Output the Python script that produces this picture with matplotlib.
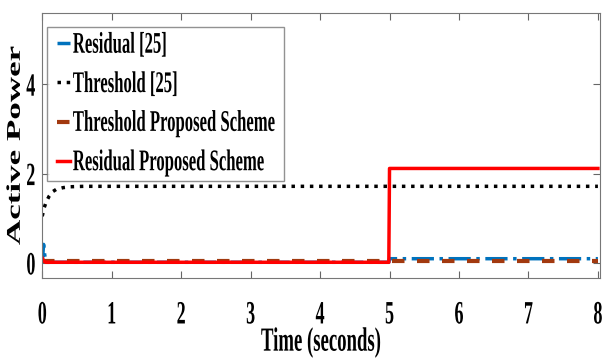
import numpy as np
import matplotlib.pyplot as plt
from matplotlib.patheffects import AbstractPathEffect
from matplotlib.transforms import Affine2D

plt.rcParams['font.family'] = ['Liberation Serif', 'DejaVu Serif']
plt.rcParams['font.weight'] = 'bold'

# Residual [25] (blue dash-dot)
t_res25 = [0, 0.02, 0.035, 0.05, 0.08, 4.99, 5.0, 8.0]
y_res25 = [0.0, 0.42, 0.2, 0.05, 0.02, 0.02, 0.1, 0.1]

# Threshold [25] (black dotted)
t_thr25 = [0, 0.03, 0.06, 0.1, 0.15, 0.2, 0.3, 0.4, 0.6, 1.0, 8.0]
y_thr25 = [1.05, 1.25, 1.38, 1.5, 1.6, 1.65, 1.69, 1.71, 1.72, 1.72, 1.72]

# Threshold Proposed Scheme (brown dashed)
t_thrp = [0, 8.0]
y_thrp = [0.05, 0.05]

# Residual Proposed Scheme (red solid)
t_resp = [0, 0.02, 0.05, 4.99, 5.0, 8.0]
y_resp = [0.12, 0.05, 0.02, 0.02, 2.12, 2.12]


class VStretch(AbstractPathEffect):
    # stretch text vertically about its centre (the source figure looks squashed)
    def __init__(self, sy=1.8):
        super().__init__()
        self.sy = sy

    def draw_path(self, renderer, gc, tpath, affine, rgbFace=None):
        ext = tpath.get_extents(affine)
        cy = 0.5 * (ext.y0 + ext.y1)
        t = affine + Affine2D().translate(0, -cy).scale(1, self.sy).translate(0, cy)
        renderer.draw_path(gc, tpath, t, rgbFace)


fig = plt.figure(figsize=(6.03, 3.6), dpi=100)
ax = fig.add_axes([0.07, 0.228, 0.925, 0.736])

ax.plot(t_res25, y_res25, color='#0072BD', linestyle='-.', lw=2.5, label='Residual [25]')
ax.plot(t_thr25, y_thr25, color='black', linestyle=':', lw=2.5, label='Threshold [25]')
ax.plot(t_thrp, y_thrp, color='#A2390F', linestyle=(0, (3, 3)), lw=3, label='Threshold Proposed Scheme')
ax.plot(t_resp, y_resp, color='#FF0000', linestyle='-', lw=2.5, label='Residual Proposed Scheme')

ax.set_xlim(0, 8.03)
ax.set_ylim(-0.33, 5.6)
ax.set_xticks(range(0, 9))
ax.set_yticks([0, 2, 4])
ax.tick_params(direction='in', top=True, right=True, labelsize=13, length=5, color='#666666')
ax.tick_params(axis='x', pad=20)
ax.tick_params(axis='y', pad=5)
for s in ax.spines.values():
    s.set_color('#777777')

ax.set_xlabel('Time (seconds)', fontsize=13.5, fontweight='bold', labelpad=8)
ax.set_ylabel('Active Power', fontsize=14, fontweight='bold')
ax.yaxis.set_label_coords(-0.033, 0.5)

leg = ax.legend(loc='upper left', bbox_to_anchor=(47 / 603, 1 - 27 / 360),
                bbox_transform=fig.transFigure, borderaxespad=0,
                fontsize=12, handlelength=0.75, handletextpad=0.2,
                fancybox=False, edgecolor='#777777',
                labelspacing=1.4, borderpad=0.6)
leg.get_frame().set_linewidth(1.0)

stretch = [VStretch(1.8)]
texts = ax.get_xticklabels() + ax.get_yticklabels() + leg.get_texts()
texts += [ax.xaxis.label, ax.yaxis.label]
for txt in texts:
    txt.set_fontweight('bold')
    txt.set_path_effects(stretch)

plt.savefig('out.png', dpi=100)
